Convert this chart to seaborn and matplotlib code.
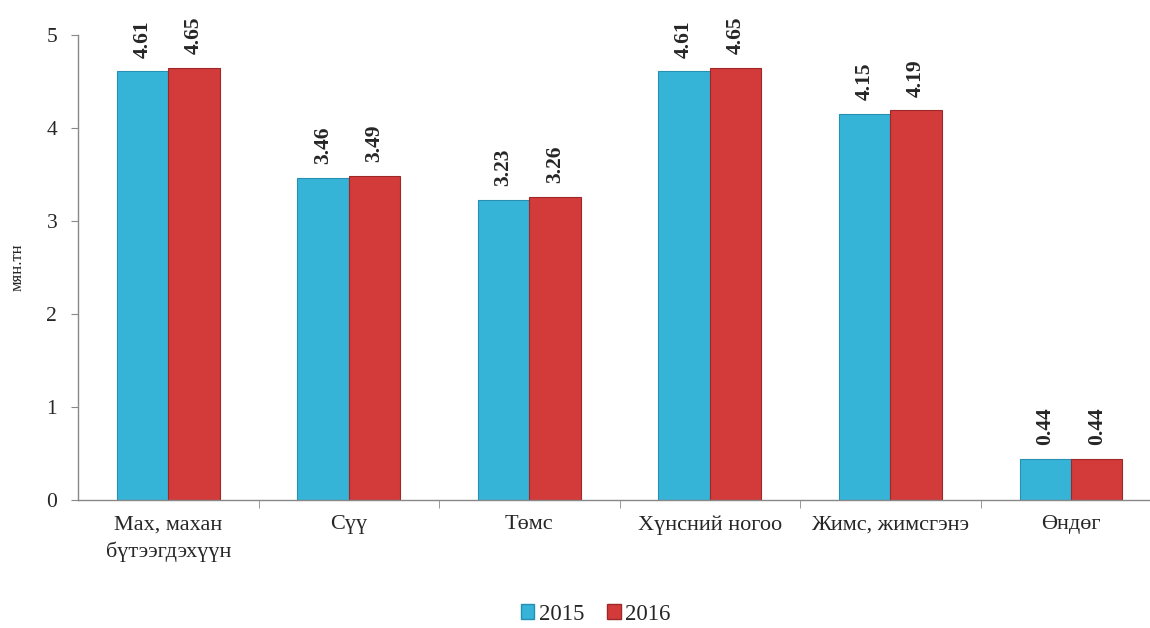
import matplotlib
matplotlib.use("Agg")
import matplotlib.pyplot as plt
import seaborn as sns
import pandas as pd
import numpy as np
from matplotlib.ticker import FixedLocator
from matplotlib.patches import Patch

categories = ["Мах, махан\nбүтээгдэхүүн", "Сүү", "Төмс", "Хүнсний ногоо", "Жимс, жимсгэнэ", "Өндөг"]
years = ["2015", "2016"]
values_2015 = [4.61, 3.46, 3.23, 4.61, 4.15, 0.44]
values_2016 = [4.65, 3.49, 3.26, 4.65, 4.19, 0.44]
y_label = "мян.тн"

sns.set_style("white")
plt.rcParams['font.family'] = ['Liberation Serif', 'DejaVu Serif']

df = pd.DataFrame({
    "category": categories * 2,
    "year": [years[0]] * len(categories) + [years[1]] * len(categories),
    "value": values_2015 + values_2016,
})

colors = {"2015": "#36b4d8", "2016": "#d33b3b"}
edge = {"2015": "#2590b2", "2016": "#9e2828"}

fig = plt.figure(figsize=(11.5, 6.28), dpi=100)
ax = fig.add_axes([0.0678, 0.204, 0.942, 0.74])

sns.barplot(data=df, x="category", y="value", hue="year", palette=colors,
            width=0.57, ax=ax, legend=False, saturation=1)

for container, yr in zip(ax.containers, years):
    for bar in container:
        bar.set_edgecolor(edge[yr])
        bar.set_linewidth(0.8)
    ax.bar_label(container, labels=[f"{v:.2f}" for v in container.datavalues],
                 rotation=90, padding=10, fontsize=15.5, fontweight="bold")

ax.set_ylim(0, 5)
ax.set_xlim(-0.5, len(categories) - 0.5)
ax.set_yticks([0, 1, 2, 3, 4, 5])
ax.tick_params(axis="y", labelsize=15.5, length=5, color="#888888", left=True, direction="out", pad=10)
ax.tick_params(axis="x", labelsize=16, length=0, pad=11)
for lbl in ax.get_xticklabels():
    lbl.set_linespacing(1.5)
ax.xaxis.set_minor_locator(FixedLocator(np.arange(0.5, len(categories) - 0.5, 1.0)))
ax.tick_params(axis="x", which="minor", length=6, color="#888888", bottom=True, direction="out")
ax.set_xlabel("")
ax.set_ylabel(y_label, fontsize=12, labelpad=15)
for s in ["top", "right"]:
    ax.spines[s].set_visible(False)
for s in ["left", "bottom"]:
    ax.spines[s].set_color("#888888")
    ax.spines[s].set_linewidth(1)

handles = [Patch(facecolor=colors[y], edgecolor=edge[y], label=y) for y in years]
fig.legend(handles=handles, loc="center", bbox_to_anchor=(0.518, 0.022), ncol=2,
           frameon=False, fontsize=16.5, handlelength=0.6, handleheight=0.6,
           handletextpad=0.2, columnspacing=1.0)

fig.savefig("out.png", dpi=100)
